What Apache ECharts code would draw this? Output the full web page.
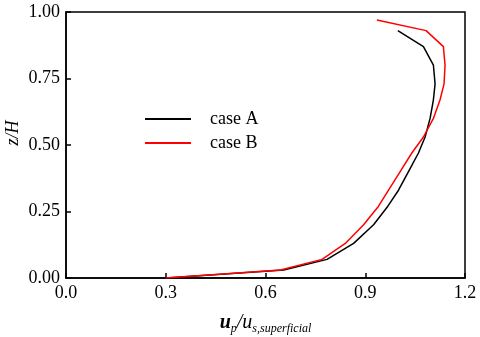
<!DOCTYPE html>
<html>
<head>
<meta charset="utf-8">
<script src="https://cdn.jsdelivr.net/npm/echarts@6/dist/echarts.min.js"></script>
<style>
  html, body { margin: 0; padding: 0; background: #fff; }
  #main { width: 480px; height: 337px; }
</style>
</head>
<body>
<div id="main"></div>
<script>
// z/H levels
var zA = [0, 0.03, 0.07, 0.13, 0.2, 0.27, 0.33, 0.4, 0.47, 0.53, 0.6, 0.67, 0.73, 0.8, 0.87, 0.93];
var uA = [0.3, 0.655, 0.785, 0.865, 0.925, 0.968, 1.0, 1.03, 1.06, 1.08, 1.095, 1.105, 1.11, 1.105, 1.075, 0.998];
var zB = [0, 0.03, 0.07, 0.13, 0.2, 0.27, 0.33, 0.4, 0.47, 0.53, 0.6, 0.67, 0.73, 0.8, 0.87, 0.93, 0.97];
var uB = [0.3, 0.645, 0.77, 0.84, 0.895, 0.94, 0.97, 1.005, 1.04, 1.075, 1.105, 1.125, 1.137, 1.14, 1.135, 1.083, 0.935];

function pairs(u, z) {
  return u.map(function (v, i) { return [v, z[i]]; });
}

var font = '"Liberation Serif", "Times New Roman", serif';
var chart = echarts.init(document.getElementById('main'));

chart.setOption({
  animation: false,
  textStyle: { fontFamily: font },
  grid: {
    left: 66, top: 12, right: 15, bottom: 59,
    outerBoundsMode: 'none', containLabel: false,
    show: true, borderColor: '#000', borderWidth: 1.5
  },
  legend: {
    orient: 'vertical',
    left: 140, top: 105,
    icon: 'rect',
    itemWidth: 46, itemHeight: 2, itemGap: 6,
    textStyle: { fontFamily: font, fontSize: 18, color: '#000', padding: [0, 0, 0, 14] },
    data: ['case A', 'case B']
  },
  xAxis: {
    type: 'value', min: 0, max: 1.2, interval: 0.3,
    axisLine: { lineStyle: { color: '#000', width: 1.5 } },
    axisTick: { inside: true, length: 5, lineStyle: { color: '#000', width: 1.5 } },
    splitLine: { show: false },
    axisLabel: {
      color: '#000', fontSize: 18, fontFamily: font, margin: 6,
      formatter: function (v) { return v.toFixed(1); }
    },
    name: '{b|u}{sub|p}{i|/u}{sub|s,superficial}',
    nameLocation: 'middle', nameGap: 33,
    nameTextStyle: {
      rich: {
        b: { fontFamily: font, fontSize: 20, fontWeight: 'bold', fontStyle: 'italic', color: '#000' },
        i: { fontFamily: font, fontSize: 20, fontStyle: 'italic', color: '#000' },
        sub: { fontFamily: font, fontSize: 12, fontStyle: 'italic', color: '#000', padding: [12, 0, 0, 0] }
      }
    }
  },
  yAxis: {
    type: 'value', min: 0, max: 1, interval: 0.25,
    axisLine: { lineStyle: { color: '#000', width: 1.5 } },
    axisTick: { inside: true, length: 5, lineStyle: { color: '#000', width: 1.5 } },
    splitLine: { show: false },
    axisLabel: {
      color: '#000', fontSize: 18, fontFamily: font, margin: 6,
      formatter: function (v) { return v.toFixed(2); }
    },
    name: 'z/H',
    nameLocation: 'middle', nameGap: 44, nameMoveOverlap: false,
    nameTextStyle: {
      fontFamily: font, fontSize: 18, fontStyle: 'italic', color: '#000',
      padding: [0, 0, 0, 24]
    }
  },
  series: [
    {
      name: 'case A', type: 'line', symbol: 'none',
      lineStyle: { color: '#000', width: 1.5 }, itemStyle: { color: '#000' },
      data: pairs(uA, zA)
    },
    {
      name: 'case B', type: 'line', symbol: 'none',
      lineStyle: { color: '#ff0000', width: 1.5 }, itemStyle: { color: '#ff0000' },
      data: pairs(uB, zB)
    }
  ]
});
</script>
</body>
</html>
